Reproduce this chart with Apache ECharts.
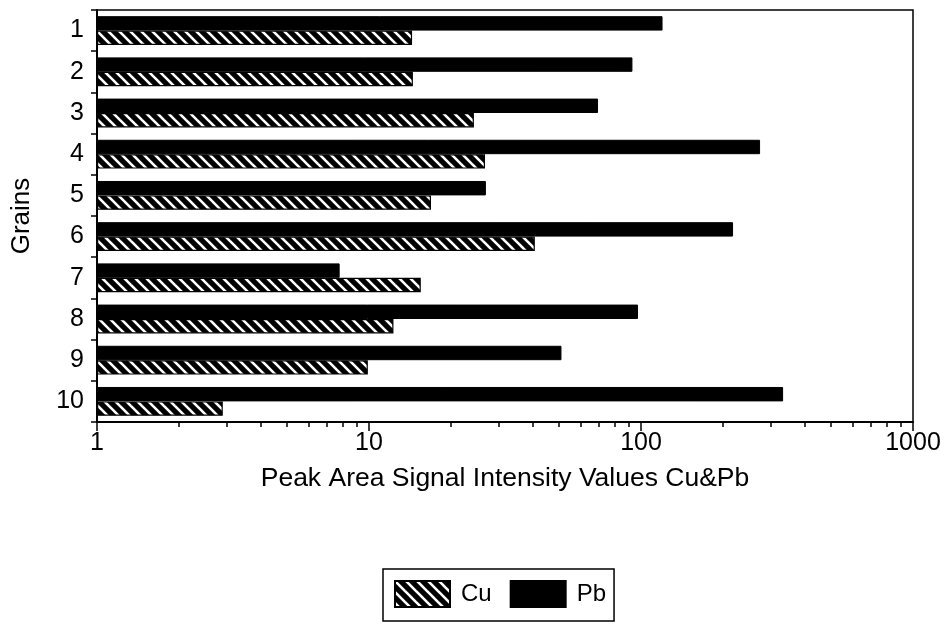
<!DOCTYPE html>
<html>
<head>
<meta charset="utf-8">
<script src="https://cdn.jsdelivr.net/npm/echarts@6/dist/echarts.min.js"></script>
<style>
html,body{margin:0;padding:0;background:#fff;}
#chart{width:944px;height:624px;}
</style>
</head>
<body>
<div id="chart"></div>
<script>
// ---- data ----
const categories = ['1','2','3','4','5','6','7','8','9','10'];
const cuValues = [14.4, 14.5, 24.3, 26.7, 16.9, 40.7, 15.5, 12.3, 9.9, 2.9];
const pbValues = [120, 93, 69.5, 274, 26.9, 218, 7.8, 97.5, 51, 333];
const xMajorTicks = [1, 10, 100, 1000];
const xMinorTicks = [2,3,4,5,6,7,8,9,20,30,40,50,60,70,80,90,200,300,400,500,600,700,800,900];
const xTickLabels = ['1', '10', '100', '1000'];
const seriesNames = ['Cu', 'Pb'];

// hatch pattern for Cu
function makeHatch() {
  const s = 11;
  const c = document.createElement('canvas');
  c.width = s; c.height = s;
  const g = c.getContext('2d');
  g.fillStyle = '#000';
  g.fillRect(0, 0, s, s);
  g.strokeStyle = '#fff';
  g.lineWidth = 2.6;
  [-s, 0, s].forEach(function (o) {
    g.beginPath();
    g.moveTo(-2 + o, -2);
    g.lineTo(s + 2 + o, s + 2);
    g.stroke();
  });
  return c;
}
const hatch = { image: makeHatch(), repeat: 'repeat' };

const FONT = '"Liberation Sans", Arial, Helvetica, sans-serif';
const chart = echarts.init(document.getElementById('chart'), null, { renderer: 'canvas' });

chart.setOption({
  animation: false,
  backgroundColor: '#fff',
  textStyle: { fontFamily: FONT, color: '#000' },
  grid: {
    left: 97, right: 31, top: 10, bottom: 202,
    show: true, borderColor: '#000', borderWidth: 1.5, backgroundColor: 'transparent'
  },
  legend: {
    data: seriesNames,
    left: 383, top: 569,
    orient: 'horizontal',
    padding: [11, 8, 13, 11],
    itemWidth: 55, itemHeight: 26, itemGap: 18,
    borderColor: '#000', borderWidth: 1.5,
    icon: 'rect',
    textStyle: { fontSize: 24, color: '#000', fontFamily: FONT, padding: [0, 0, 0, 6] }
  },
  xAxis: [
    {
      type: 'log', min: 1, max: 1000, logBase: 10,
      name: 'Peak Area Signal Intensity Values Cu&Pb',
      nameLocation: 'middle', nameGap: 43,
      nameTextStyle: { fontSize: 26.5, color: '#000', fontFamily: FONT },
      axisLine: { show: true, lineStyle: { color: '#000', width: 2 } },
      axisTick: { show: true, inside: false, length: 9, lineStyle: { color: '#000', width: 1.5 }, customValues: xMajorTicks },
      axisLabel: {
        fontSize: 25, color: '#000', margin: 9, fontFamily: FONT, customValues: xMajorTicks,
        formatter: function (v) { const i = xMajorTicks.indexOf(v); return i >= 0 ? xTickLabels[i] : String(v); }
      },
      splitLine: { show: false },
      minorTick: { show: false }
    },
    {
      type: 'log', min: 1, max: 1000, logBase: 10, position: 'bottom',
      axisLine: { show: false },
      axisTick: { show: true, inside: false, length: 5, lineStyle: { color: '#000', width: 1.5 }, customValues: xMinorTicks },
      axisLabel: { show: false },
      splitLine: { show: false }
    }
  ],
  yAxis: {
    type: 'category', data: categories, inverse: true,
    name: 'Grains', nameLocation: 'middle', nameGap: 62,
    nameTextStyle: { fontSize: 26, color: '#000', fontFamily: FONT },
    axisLine: { show: true, lineStyle: { color: '#000', width: 2 } },
    axisTick: { show: true, length: 6, lineStyle: { color: '#000', width: 1.5 } },
    axisLabel: { fontSize: 25, color: '#000', margin: 13, fontFamily: FONT },
    splitLine: { show: false }
  },
  series: [
    {
      name: 'Pb', type: 'bar', data: pbValues,
      barCategoryGap: '30%', barGap: '0%',
      itemStyle: { color: '#000', borderColor: '#000', borderWidth: 1 }
    },
    {
      name: 'Cu', type: 'bar', data: cuValues,
      barCategoryGap: '30%', barGap: '0%',
      itemStyle: { color: hatch, borderColor: '#000', borderWidth: 1.2 }
    }
  ]
});
</script>
</body>
</html>
